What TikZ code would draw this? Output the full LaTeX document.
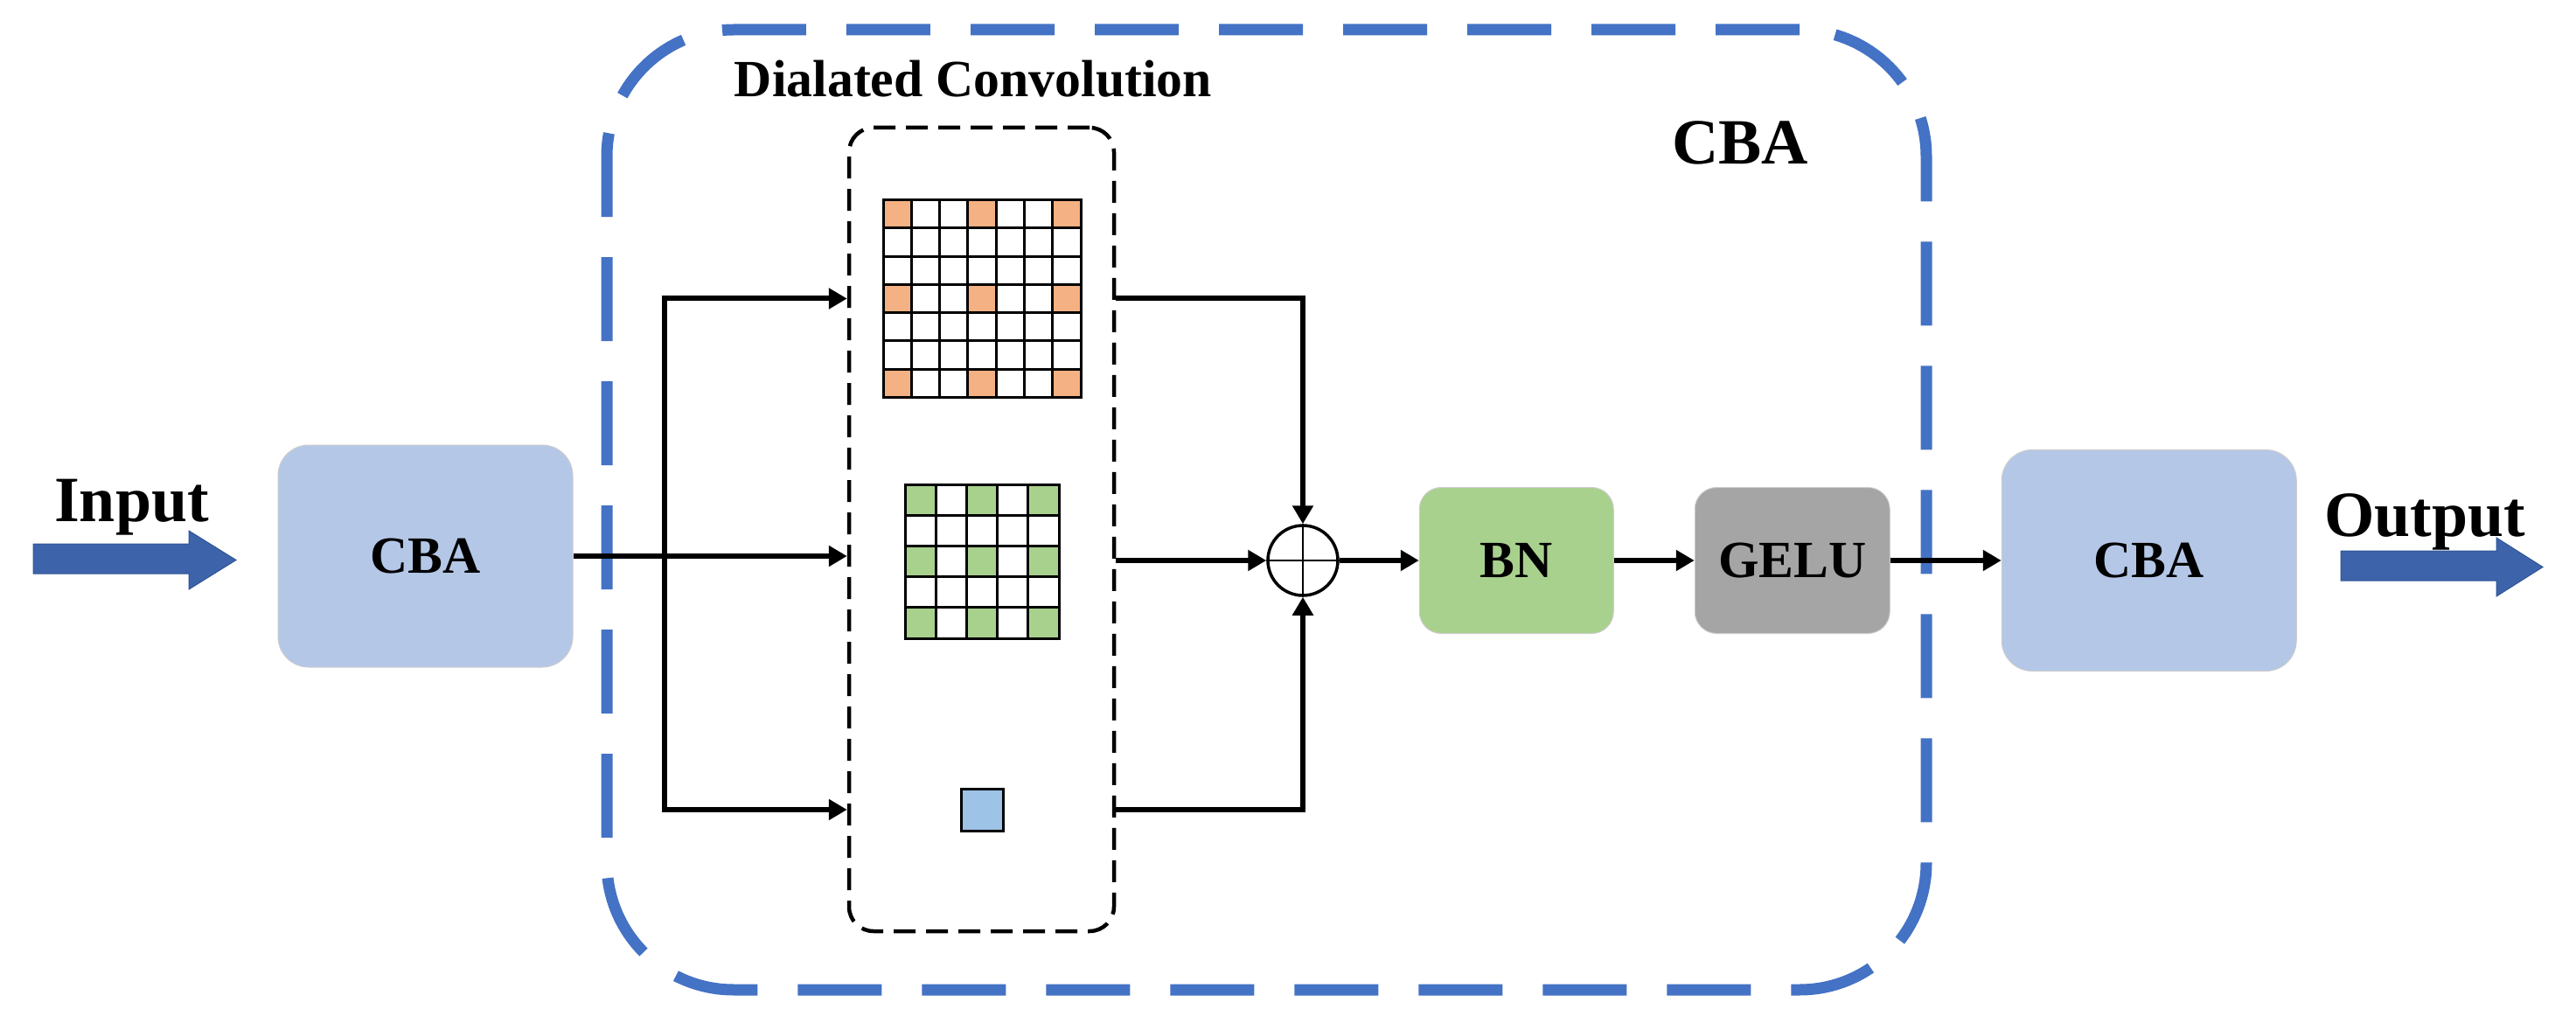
\documentclass[tikz,border=0pt]{standalone}
\usepackage{fontspec}
\setmainfont{Liberation Serif}
\usepackage{xcolor}
\usepackage{tikz}
\usetikzlibrary{arrows.meta, positioning, calc}
\definecolor{cbablue}{HTML}{B4C7E7}
\definecolor{bngreen}{HTML}{A9D18E}
\definecolor{gelugray}{HTML}{A5A5A5}
\definecolor{dilorange}{HTML}{F4B183}
\definecolor{dilblue}{HTML}{9DC3E6}
\definecolor{outerblue}{HTML}{4472C4}
\definecolor{fatblue}{HTML}{3D64AA}
\definecolor{fatedge}{HTML}{2F5597}
\tikzstyle{block} = [rectangle, draw=black!20, line width=0.01cm, text centered, font=\fontsize{17}{20}\selectfont\bfseries]
\tikzstyle{title} = [inner sep=0, anchor=base, font=\fontsize{21}{25}\selectfont\bfseries]
\tikzstyle{arrow} = [line width=0.06cm, -{Triangle[length=0.21cm, width=0.23cm]}]
\tikzstyle{gridline} = [line width=0.03cm, line cap=rect]
\tikzstyle{kernel} = [rectangle, inner sep=0, outer sep=0]

\begin{document}
\begin{tikzpicture}
              \useasboundingbox (0,0) rectangle (29.46,-11.78);

              % outer CBA frame and the dilated convolution group
              \node[draw=outerblue, line width=0.13cm, dash pattern=on 0.96cm off 0.46cm, rounded corners=1.45cm, minimum width=15.09cm, minimum height=10.98cm, inner sep=0] (frame) at (14.485,-5.83) {};
              \node[draw, line width=0.045cm, dash pattern=on 0.25cm off 0.12cm, rounded corners=0.28cm, minimum width=3.03cm, minimum height=9.19cm, inner sep=0] (conv) at (11.225,-6.055) {};

              \node[title, font=\fontsize{17}{20}\selectfont\bfseries] (conv-label) at (11.13,-1.11) {Dialated Convolution};
              \node[title] (frame-label) at (19.90,-1.88) {CBA};

              % blocks
              \node[block, fill=cbablue, rounded corners=0.35cm, minimum width=3.37cm, minimum height=2.54cm] (cba-1) at (4.865,-6.36) {CBA};
              \node[circle, draw, line width=0.035cm, minimum size=0.80cm, inner sep=0] (plus) at (14.90,-6.41) {};
              \draw[line width=0.025cm] (plus.north) -- (plus.south) (plus.west) -- (plus.east);
              \node[block, fill=bngreen, rounded corners=0.25cm, minimum width=2.22cm, minimum height=1.67cm, right=0.91cm of plus] (bn) {BN};
              \node[block, fill=gelugray, rounded corners=0.25cm, minimum width=2.23cm, minimum height=1.67cm, right=0.92cm of bn] (gelu) {GELU};
              \node[block, fill=cbablue, rounded corners=0.35cm, minimum width=3.37cm, minimum height=2.53cm, right=1.27cm of gelu] (cba-2) {CBA};

              % kernels
              \def\oc{0.3229}
              \def\gc{0.352}
              \node[kernel, minimum size=2.26cm] (dil-1) at (11.23,-3.415) {};
              \node[kernel, minimum size=1.76cm] (dil-2) at (11.23,-6.42) {};
              \node[kernel, draw, fill=dilblue, line width=0.03cm, minimum size=0.48cm] (dil-3) at (11.23,-9.26) {};

              \foreach \r in {0,3,6}
                \foreach \c in {0,3,6}
                  \fill[dilorange] ($(dil-1.north west)+(\c*\oc,-\r*\oc)$) rectangle +(\oc,-\oc);
              \foreach \k in {0,...,7}
                \draw[gridline] ($(dil-1.north west)+(\k*\oc,0)$) -- +(0,-7*\oc)
                                ($(dil-1.north west)+(0,-\k*\oc)$) -- +(7*\oc,0);

              \foreach \r in {0,2,4}
                \foreach \c in {0,2,4}
                  \fill[bngreen] ($(dil-2.north west)+(\c*\gc,-\r*\gc)$) rectangle +(\gc,-\gc);
              \foreach \k in {0,...,5}
                \draw[gridline] ($(dil-2.north west)+(\k*\gc,0)$) -- +(0,-5*\gc)
                                ($(dil-2.north west)+(0,-\k*\gc)$) -- +(5*\gc,0);

              % input / output arrows
              \filldraw[fill=fatblue, draw=fatedge, line width=0.01cm] (0.38,-6.22) -- (2.16,-6.22) -- (2.16,-6.07) -- (2.70,-6.405) -- (2.16,-6.74) -- (2.16,-6.56) -- (0.38,-6.56) -- cycle;
              \filldraw[fill=fatblue, draw=fatedge, line width=0.01cm] (26.77,-6.30) -- (28.55,-6.30) -- (28.55,-6.15) -- (29.08,-6.485) -- (28.55,-6.82) -- (28.55,-6.64) -- (26.77,-6.64) -- cycle;
              \node[title] (in-label) at (1.505,-5.97) {Input};
              \node[title] (out-label) at (27.73,-6.13) {Output};

              % connectors
              \coordinate (split) at ($(cba-1.east)+(1.04,0)$);
              \draw[arrow] (cba-1.east) -- (cba-1.east -| conv.west);
              \draw[arrow] (split) |- (conv.west |- dil-1);
              \draw[arrow] (split) |- (conv.west |- dil-3);
              \draw[arrow] (conv.east |- dil-1) -| (plus.north);
              \draw[arrow] (conv.east |- plus) -- (plus.west);
              \draw[arrow] (conv.east |- dil-3) -| (plus.south);
              \draw[arrow] (plus.east) -- (bn.west);
              \draw[arrow] (bn.east) -- (gelu.west);
              \draw[arrow] (gelu.east) -- (cba-2.west);

          \end{tikzpicture}
\end{document}
